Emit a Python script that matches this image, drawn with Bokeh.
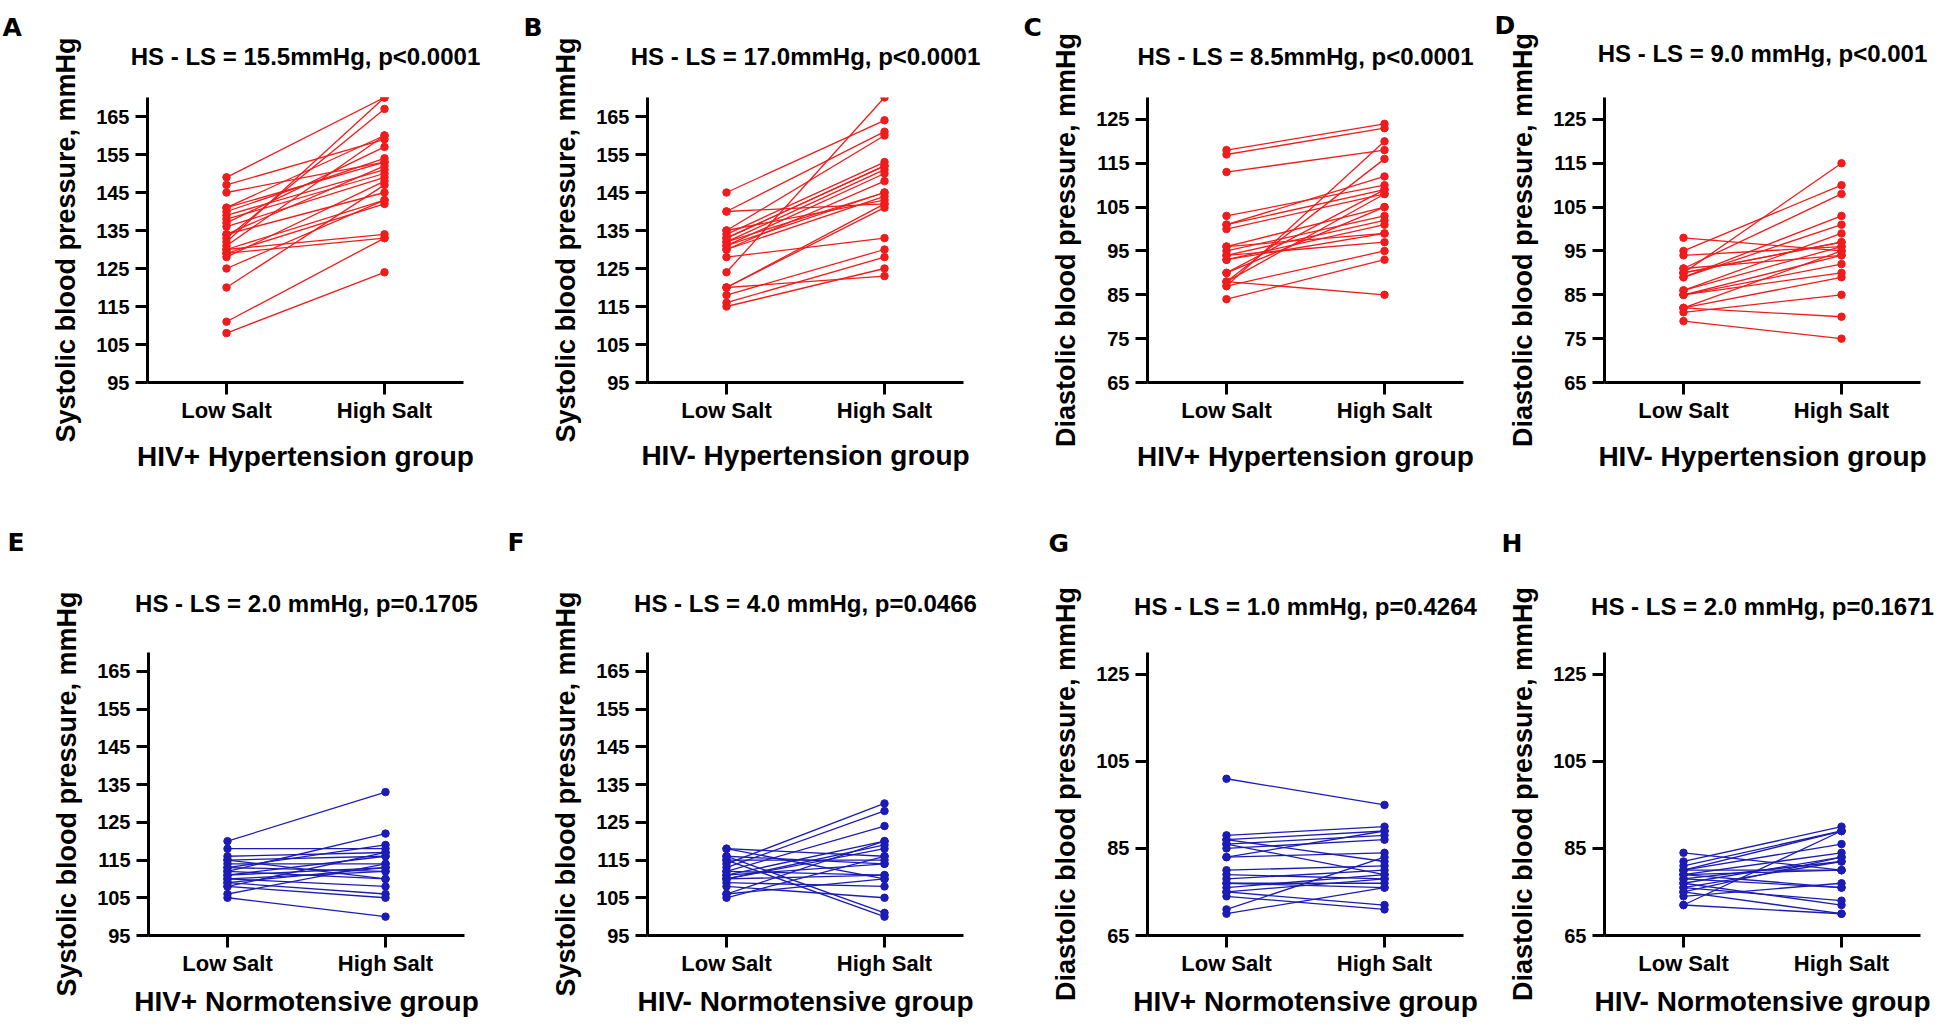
from bokeh.plotting import figure
from bokeh.models import (FactorRange, Range1d, ColumnDataSource, FixedTicker,
                          LinearAxis, Title)
from bokeh.layouts import row, column
from bokeh.embed import file_html
from bokeh.resources import INLINE

# ---------------- data ----------------
categories = ["Low Salt", "High Salt"]

a_low = [149, 147, 145, 141, 140, 139, 138, 136, 134, 133, 132, 131, 130, 130, 129, 128, 125, 120, 111, 108, 137, 134, 129, 141]
a_high = [170, 159, 153, 160, 154, 151, 150, 149, 145, 167, 170, 160, 143, 134, 142, 148, 143, 147, 133, 124, 157, 152, 133, 153]

b_low = [145, 140, 140, 135, 134, 133, 132, 131, 130, 131, 130, 135, 128, 124, 120, 120, 118, 116, 115, 120, 132, 133]
b_high = [164, 161, 142, 160, 153, 152, 151, 150, 148, 145, 144, 143, 133, 170, 142, 141, 130, 128, 125, 123, 145, 152]

c_low = [118, 117, 113, 103, 101, 100, 101, 96, 95, 94, 93, 96, 94, 90, 88, 87, 88, 87, 84, 90, 88, 93]
c_high = [124, 123, 118, 110, 109, 108, 112, 105, 103, 102, 101, 99, 97, 109, 116, 120, 85, 95, 93, 105, 108, 99]

d_low = [98, 95, 94, 91, 90, 89, 90, 91, 89, 86, 85, 86, 85, 82, 82, 81, 82, 79, 90, 85]
d_high = [95, 110, 96, 108, 115, 103, 97, 94, 101, 99, 92, 96, 90, 95, 89, 85, 80, 75, 97, 94]

e_low = [120, 118, 116, 115, 114, 113, 112, 112, 111, 110, 110, 109, 108, 106, 105, 113, 115, 111, 109, 108]
e_high = [133, 118, 117, 116, 114, 119, 122, 110, 113, 112, 108, 106, 105, 114, 100, 112, 110, 116, 113, 117]

f_low = [118, 116, 115, 114, 113, 112, 111, 110, 110, 109, 108, 106, 105, 116, 115, 112, 110, 118, 106, 111]
f_high = [110, 101, 100, 130, 128, 124, 120, 118, 111, 108, 105, 120, 116, 114, 115, 111, 119, 116, 110, 114]

g_low = [101, 88, 87, 86, 85, 83, 83, 87, 80, 79, 78, 77, 76, 75, 74, 71, 70, 86, 77, 75]
g_high = [95, 90, 89, 88, 87, 84, 89, 82, 81, 78, 80, 77, 79, 72, 71, 83, 76, 79, 76, 78]

h_low = [84, 82, 81, 80, 80, 79, 78, 77, 79, 76, 75, 74, 72, 72, 80, 78, 77, 76, 79, 75]
h_high = [80, 90, 89, 89, 86, 84, 82, 83, 76, 73, 70, 77, 89, 70, 80, 76, 72, 82, 80, 83]

titles = {
    "A": "HS - LS = 15.5mmHg, p<0.0001",
    "B": "HS - LS = 17.0mmHg, p<0.0001",
    "C": "HS - LS = 8.5mmHg, p<0.0001",
    "D": "HS - LS = 9.0 mmHg, p<0.001",
    "E": "HS - LS = 2.0 mmHg, p=0.1705",
    "F": "HS - LS = 4.0 mmHg, p=0.0466",
    "G": "HS - LS = 1.0 mmHg, p=0.4264",
    "H": "HS - LS = 2.0 mmHg, p=0.1671",
}
sys_label = "Systolic blood pressure, mmHg"
dia_label = "Diastolic blood pressure, mmHg"
groups = {
    "A": "HIV+ Hypertension group", "B": "HIV- Hypertension group",
    "C": "HIV+ Hypertension group", "D": "HIV- Hypertension group",
    "E": "HIV+ Normotensive group", "F": "HIV- Normotensive group",
    "G": "HIV+ Normotensive group", "H": "HIV- Normotensive group",
}
sys_ticks = [95, 105, 115, 125, 135, 145, 155, 165]
dia_ticks_top = [65, 75, 85, 95, 105, 115, 125]
dia_ticks_bottom = [65, 85, 105, 125]
sys_range = (95, 170)
dia_range = (65, 130)

RED = "#ee1c1c"
BLUE = "#1c1cb4"
FONT = "Liberation Sans"
LETTER_FONT = "DejaVu Sans"

# measured text geometry of this renderer (pixels)
SUB_C = 14.0      # subtitle cap centre above the axis-label standoff line
SUB_H = 31.0      # height taken by the subtitle label
LET_H = 40.0      # height of a letter title panel (standoff excluded)
LET_C = 15.0      # letter panel bottom -> letter cap centre
X_TC = 45.0       # tick-label box + group-label cap offset
X_TG = 69.0       # tick-label box + group-label box
SLACK = 2.0

# plots in one row share frame top / bottom (page pixels)
rows_geo = {
    "top": dict(fy=0, fh=483, ft=97, fb=382),
    "bottom": dict(fy=483, fh=545, ft=652, fb=935),
}
# per panel: figure x / width, frame left, subtitle centre y, letter left x / centre y,
# group label centre y
layout = {
    "A": dict(r="top", fx=0, fw=500, fl=147, ty=55, lx=2, ly=25, gy=457),
    "B": dict(r="top", fx=500, fw=500, fl=647, ty=55, lx=523, ly=19, gy=456),
    "C": dict(r="top", fx=1000, fw=492, fl=1147, ty=55, lx=1023, ly=18, gy=457),
    "D": dict(r="top", fx=1492, fw=446, fl=1604, ty=52, lx=1494, ly=15, gy=457),
    "E": dict(r="bottom", fx=0, fw=500, fl=148, ty=602, lx=7, ly=534, gy=1004),
    "F": dict(r="bottom", fx=500, fw=500, fl=647, ty=602, lx=507, ly=531, gy=1005),
    "G": dict(r="bottom", fx=1000, fw=492, fl=1147, ty=605, lx=1048, ly=528, gy=1005),
    "H": dict(r="bottom", fx=1492, fw=446, fl=1604, ty=605, lx=1501, ly=522, gy=1005),
}
FRAME_W = 316


def style_text_axis(ax):
    ax.axis_line_width = 3
    ax.axis_line_color = "black"
    ax.major_tick_line_width = 3
    ax.major_tick_line_color = "black"
    ax.major_tick_in = 0
    ax.major_tick_out = 12
    ax.minor_tick_line_color = None
    ax.major_label_text_font = FONT
    ax.major_label_text_font_style = "bold"
    ax.major_label_text_color = "black"
    ax.axis_label_text_font = FONT
    ax.axis_label_text_font_style = "bold"
    ax.axis_label_text_color = "black"


def panel(key, low, high, color, ylabel, yrange, yticks):
    L = layout[key]
    R = rows_geo[L["r"]]
    mbl = L["fl"] - L["fx"]
    mbt = R["ft"] - R["fy"]
    mbb = R["fy"] + R["fh"] - R["fb"]
    mbr = L["fw"] - mbl - FRAME_W
    p = figure(x_range=FactorRange(*categories), y_range=Range1d(*yrange),
               width=L["fw"], height=R["fh"],
               min_border_left=mbl, min_border_right=mbr,
               min_border_top=mbt, min_border_bottom=mbb,
               title_location=None,
               output_backend="svg", toolbar_location=None, tools="")
    p.outline_line_color = None
    p.xgrid.visible = False
    p.ygrid.visible = False
    p.background_fill_color = "white"
    p.border_fill_color = "white"

    n = len(low)
    src = ColumnDataSource(dict(x0=[categories[0]] * n, y0=low,
                                x1=[categories[1]] * n, y1=high))
    p.segment(x0="x0", y0="y0", x1="x1", y1="y1", source=src,
              line_color=color, line_width=1.3)
    p.scatter(x="x0", y="y0", source=src, size=7.5, color=color)
    p.scatter(x="x1", y="y1", source=src, size=7.5, color=color)

    xa = p.below[0]
    ya = p.left[0]
    style_text_axis(xa)
    style_text_axis(ya)

    ya.ticker = FixedTicker(ticks=yticks)
    ya.major_label_text_font_size = "20px"
    ya.major_label_standoff = 6
    ya.axis_label = ylabel
    ya.axis_label_text_font_size = "27px"
    ya.axis_label_standoff = 12

    xa.major_label_text_font_size = "22px"
    xa.major_label_standoff = 3
    xa.axis_label = groups[key]
    xa.axis_label_text_font_size = "28px"
    g_dist = L["gy"] - R["fb"]
    als = g_dist - 15 - X_TC
    als_max = mbb - SLACK - 15 - X_TG
    xa.axis_label_standoff = max(0, int(round(min(als, als_max))))

    # subtitle: label of a bare axis above the frame
    s_ax = int(round((R["ft"] - L["ty"]) - SUB_C))
    top_ax = LinearAxis(ticker=FixedTicker(ticks=[]), axis_label=titles[key])
    top_ax.axis_line_color = None
    top_ax.major_tick_in = 0
    top_ax.major_tick_out = 0
    top_ax.minor_tick_in = 0
    top_ax.minor_tick_out = 0
    top_ax.major_label_standoff = 0
    top_ax.axis_label_text_font = FONT
    top_ax.axis_label_text_font_style = "bold"
    top_ax.axis_label_text_font_size = "24px"
    top_ax.axis_label_text_color = "black"
    top_ax.axis_label_standoff = s_ax
    p.add_layout(top_ax, "above")

    # panel letter: title stacked above the subtitle, bottom aligned
    s2 = 2 * ((R["ft"] - L["ly"]) - s_ax - SUB_H - LET_C)
    s2_max = mbt - SLACK - s_ax - SUB_H - LET_H
    s2 = min(s2, s2_max)
    letter = Title(text=key, align="left", vertical_align="bottom",
                   offset=L["lx"] - L["fl"], standoff=s2,
                   text_font=LETTER_FONT, text_font_style="bold",
                   text_font_size="25px", text_color="black")
    p.add_layout(letter, "above")
    return p


pA = panel("A", a_low, a_high, RED, sys_label, sys_range, sys_ticks)
pB = panel("B", b_low, b_high, RED, sys_label, sys_range, sys_ticks)
pC = panel("C", c_low, c_high, RED, dia_label, dia_range, dia_ticks_top)
pD = panel("D", d_low, d_high, RED, dia_label, dia_range, dia_ticks_top)
pE = panel("E", e_low, e_high, BLUE, sys_label, sys_range, sys_ticks)
pF = panel("F", f_low, f_high, BLUE, sys_label, sys_range, sys_ticks)
pG = panel("G", g_low, g_high, BLUE, dia_label, dia_range, dia_ticks_bottom)
pH = panel("H", h_low, h_high, BLUE, dia_label, dia_range, dia_ticks_bottom)

page = column(row(pA, pB, pC, pD, spacing=0), row(pE, pF, pG, pH, spacing=0), spacing=0)

open("out.html", "w").write(file_html(page, INLINE))
